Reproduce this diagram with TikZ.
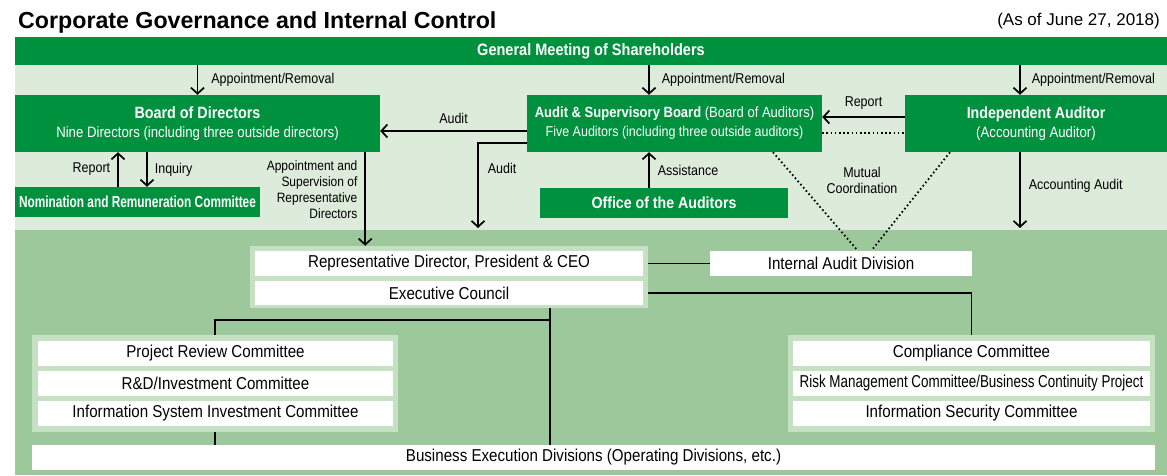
\documentclass[tikz,border=0pt]{standalone}
\usepackage{fontspec}
\setmainfont{Liberation Sans}[FakeStretch=0.88]
\newfontfamily\widefont{Liberation Sans}
\usetikzlibrary{arrows.meta}

\definecolor{darkgreen}{HTML}{00913F}
\definecolor{palegreen}{HTML}{DCEBDA}
\definecolor{midgreen}{HTML}{9DC89C}
\definecolor{framegreen}{HTML}{C5E0C3}

\tikzset{
  greenbox/.style={fill=darkgreen, text=white, inner sep=0pt, align=center,
    font=\fontsize{15}{19}\selectfont},
  whitebox/.style={fill=white, inner sep=0pt, font=\fontsize{17.2}{18}\selectfont},
  groupframe/.style={fill=framegreen, inner sep=0pt},
  lbl/.style={font=\fontsize{14.2}{16}\selectfont, inner sep=4pt},
  link/.style={line width=1.7pt},
  dots/.style={line width=1.8pt, dash pattern=on 1.6pt off 2.6pt},
}

\begin{document}
\begin{tikzpicture}[x=1pt, y=-1pt, >={Straight Barb[length=6pt,width=13pt]}]
\useasboundingbox (0,0) rectangle (1167,475);

% Background panels
\fill[palegreen] (15,37) rectangle (1167,230);
\fill[midgreen] (15,230) rectangle (1167,475);

% Heading
\node[anchor=base west, inner sep=0pt, font=\widefont\bfseries\fontsize{23.2}{25}\selectfont] (title) at (18,28) {Corporate Governance and Internal Control};
\node[anchor=base east, inner sep=0pt, font=\widefont\fontsize{17}{18}\selectfont] (date) at (1160,25) {(As of June 27, 2018)};

% Governance bodies
\node[greenbox, minimum width=1152pt, minimum height=28pt, font=\bfseries\fontsize{16.5}{18}\selectfont] (gms) at (591,51) {General Meeting of Shareholders};
\node[greenbox, minimum width=365pt, minimum height=57pt] (brd) at (197.5,123.5) {{\bfseries\fontsize{16.3}{19}\selectfont Board of Directors}\\Nine Directors (including three outside directors)};
\node[greenbox, minimum width=295pt, minimum height=57pt] (asb) at (674.5,123.5) {{\fontsize{14.8}{19}\selectfont\textbf{Audit \& Supervisory Board} (Board of Auditors)}\\{\fontsize{14.2}{19}\selectfont Five Auditors (including three outside auditors)}};
\node[greenbox, minimum width=262pt, minimum height=57pt] (ia) at (1036,123.5) {{\bfseries\fontsize{16.1}{19}\selectfont Independent Auditor}\\(Accounting Auditor)};
\node[greenbox, minimum width=245pt, minimum height=30pt, font=\bfseries\fontsize{16}{17}\selectfont\addfontfeature{FakeStretch=0.74}] (nrc) at (137.5,202) {Nomination and Remuneration Committee};
\node[greenbox, minimum width=248pt, minimum height=30pt, font=\bfseries\fontsize{16.1}{17}\selectfont] (office) at (664,203) {Office of the Auditors};

% Execution side
\node[groupframe, minimum width=398pt, minimum height=62pt] (ceogrp) at (449,277) {};
\node[whitebox, minimum width=388pt, minimum height=25pt] (ceo) at (449,263.5) {Representative Director, President \& CEO};
\node[whitebox, minimum width=388pt, minimum height=24pt] (exec) at (449,293) {Executive Council};
\node[whitebox, minimum width=262pt, minimum height=25pt] (ida) at (841,263.5) {Internal Audit Division};

\node[groupframe, minimum width=366pt, minimum height=97pt] (leftgrp) at (215,383.5) {};
\node[whitebox, minimum width=355pt, minimum height=25pt] (prc) at (215.5,353.5) {Project Review Committee};
\node[whitebox, minimum width=355pt, minimum height=25pt] (rdic) at (215.5,383.5) {R\&D/Investment Committee};
\node[whitebox, minimum width=355pt, minimum height=25pt] (isic) at (215.5,413.5) {Information System Investment Committee};

\node[groupframe, minimum width=367pt, minimum height=97pt] (rightgrp) at (971.5,383.5) {};
\node[whitebox, minimum width=357pt, minimum height=25pt] (cc) at (971.5,353.5) {Compliance Committee};
\node[whitebox, minimum width=357pt, minimum height=25pt, font=\fontsize{17.2}{18}\selectfont\addfontfeature{FakeStretch=0.78}] (rmc) at (971.5,383.5) {Risk Management Committee/Business Continuity Project};
\node[whitebox, minimum width=357pt, minimum height=25pt] (isc) at (971.5,413.5) {Information Security Committee};

\node[whitebox, minimum width=1123pt, minimum height=25pt] (bed) at (593.5,457.5) {Business Execution Divisions (Operating Divisions, etc.)};

% Appointment/Removal from the shareholders
\draw[link,->] (gms.south -| brd.north) -- (brd.north) node[lbl, midway, right=9pt] {Appointment/Removal};
\draw[link,->] ([xshift=-25.5pt]asb.north |- gms.south) -- ([xshift=-25.5pt]asb.north) node[lbl, midway, right=8pt] {Appointment/Removal};
\draw[link,->] ([xshift=-16pt]ia.north |- gms.south) -- ([xshift=-16pt]ia.north) node[lbl, midway, right=7pt] {Appointment/Removal};

% Audit by the board of auditors
\draw[link,->] ([yshift=-7.5pt]asb.west) -- ([yshift=-7.5pt]brd.east) node[lbl, midway, above=3pt] {Audit};
\coordinate (auditend) at (478,228);
\draw[link,->] ([yshift=-19.5pt]asb.west) -| (auditend) node[lbl, pos=0.65, right=5pt] {Audit};

% Report and inquiry
\draw[link,->] ([xshift=-19.5pt]nrc.north) -- ([xshift=-19.5pt]nrc.north |- brd.south) node[lbl, midway, left=3pt] {Report};
\draw[link,->] ([xshift=9.5pt]nrc.north |- brd.south) -- ([xshift=9.5pt]nrc.north) node[lbl, midway, right=3pt] {Inquiry};

% Appointment and supervision
\draw[link,->] ([xshift=-15pt]brd.south east) -- ([xshift=-15pt]brd.south east |- ceogrp.north) node[lbl, pos=0.4, left=3pt, align=right, font=\fontsize{13.6}{16}\selectfont] {Appointment and\\Supervision of\\Representative\\Directors};

% Assistance
\draw[link,->] ([xshift=-25.5pt]asb.south |- office.north) -- ([xshift=-25.5pt]asb.south) node[lbl, midway, right=4pt] {Assistance};

% Independent auditor and board of auditors
\draw[link,->] ([yshift=6.5pt]ia.west) -- ([yshift=6.5pt]ia.west -| asb.east) node[lbl, midway, above=3pt] {Report};
\draw[dots] ([yshift=-9.5pt]asb.east) -- ([yshift=-9.5pt]ia.west);

% Mutual coordination
\draw[dots] ([xshift=98.5pt]asb.south) -- ([xshift=16pt,yshift=1pt]ida.north);
\draw[dots] ([xshift=-86pt]ia.south) -- ([xshift=31pt,yshift=1pt]ida.north);
\node[lbl, align=center] (mutual) at (862,180) {Mutual\\Coordination};

% Accounting audit
\coordinate (acctend) at (1020,228);
\draw[link,->] ([xshift=-16pt]ia.south) -- (acctend) node[lbl, pos=0.45, right=4pt] {Accounting Audit};

% Execution lines
\draw[link] (ceogrp.east |- ceo) -- (ida.west);
\draw[link] (ceogrp.east |- exec) -| (rightgrp.north);
\draw[link] ([xshift=101pt]ceogrp.south) -- ([xshift=101pt]ceogrp.south |- bed.north);
\coordinate (fork) at (550,320);
\draw[link] (fork) -| (leftgrp.north);
\draw[link] (leftgrp.south) -- (leftgrp.south |- bed.north);

\end{tikzpicture}
\end{document}
